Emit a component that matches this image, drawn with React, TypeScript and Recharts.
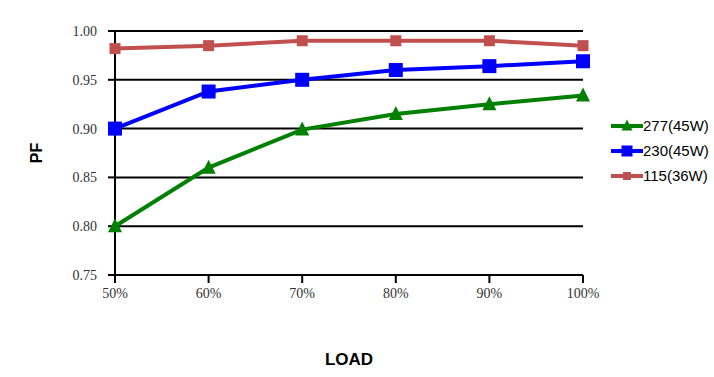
import { CartesianGrid, Line, LineChart, XAxis, YAxis } from 'recharts';

const loads = ['50%', '60%', '70%', '80%', '90%', '100%'];
const pf277 = [0.8, 0.86, 0.899, 0.915, 0.925, 0.934];
const pf230 = [0.9, 0.938, 0.95, 0.96, 0.964, 0.969];
const pf115 = [0.982, 0.985, 0.99, 0.99, 0.99, 0.985];
const yTicks = [0.75, 0.8, 0.85, 0.9, 0.95, 1.0];

const series = [
  { key: 'v277', name: '277(45W)', color: '#008000', shape: 'triangle', size: 14 },
  { key: 'v230', name: '230(45W)', color: '#0000ff', shape: 'square', size: 14 },
  { key: 'v115', name: '115(36W)', color: '#c0504d', shape: 'square', size: 11 },
];

const data = loads.map((load, i) => ({ load, v277: pf277[i], v230: pf230[i], v115: pf115[i] }));

function Marker({ cx, cy, shape, size, color }: any) {
  if (cx == null || cy == null) return null;
  const h = size / 2;
  if (shape === 'triangle') {
    return <polygon points={`${cx},${cy - h - 1} ${cx - h},${cy + h - 1} ${cx + h},${cy + h - 1}`} fill={color} />;
  }
  return <rect x={cx - h} y={cy - h} width={size} height={size} fill={color} />;
}

function LegendBox() {
  return (
    <div
      style={{
        position: 'absolute',
        left: 611,
        top: 113,
        fontFamily: 'Liberation Sans, Arial, sans-serif',
        fontSize: 15,
        color: '#000',
      }}
    >
      {series.map((s) => (
        <div key={s.key} style={{ display: 'flex', alignItems: 'center', height: 25 }}>
          <svg width={32} height={14}>
            <line x1={0} y1={7} x2={32} y2={7} stroke={s.color} strokeWidth={4} />
            <Marker cx={16} cy={7} shape={s.shape} size={s.size - 3} color={s.color} />
          </svg>
          <span>{s.name}</span>
        </div>
      ))}
    </div>
  );
}

export default function App() {
  return (
    <div style={{ position: 'absolute', left: 0, top: 0, width: 714, height: 377, background: '#fff' }}>
      <LineChart width={714} height={377} data={data} margin={{ top: 31, right: 131, bottom: 72, left: 55 }}>
        <CartesianGrid vertical={false} stroke="#000" strokeWidth={2} />
        <XAxis
          dataKey="load"
          axisLine={{ stroke: '#000', strokeWidth: 2 }}
          tickLine={{ stroke: '#000', strokeWidth: 2 }}
          tickSize={8}
          tickMargin={5}
          tick={{ fill: '#333', fontSize: 14, fontFamily: 'Liberation Serif, serif' }}
          label={{
            value: 'LOAD',
            position: 'insideBottom',
            offset: -60,
            style: { fontSize: 17, fontWeight: 'bold', fill: '#000', fontFamily: 'Liberation Sans, Arial, sans-serif' },
          }}
        />
        <YAxis
          domain={[0.75, 1]}
          ticks={yTicks}
          width={60}
          axisLine={{ stroke: '#000', strokeWidth: 2 }}
          tickLine={{ stroke: '#000', strokeWidth: 2 }}
          tickSize={7}
          tickMargin={11}
          tickFormatter={(v: number) => v.toFixed(2)}
          tick={{ fill: '#333', fontSize: 14, fontFamily: 'Liberation Serif, serif' }}
          label={{
            value: 'PF',
            angle: -90,
            position: 'insideLeft',
            offset: -19,
            style: { fontSize: 16, fontWeight: 'bold', fill: '#000', fontFamily: 'Liberation Sans, Arial, sans-serif', textAnchor: 'middle' },
          }}
        />
        {series.map((s) => (
          <Line
            key={s.key}
            dataKey={s.key}
            name={s.name}
            stroke={s.color}
            strokeWidth={4}
            isAnimationActive={false}
            dot={(p: any) => <Marker key={p.index} cx={p.cx} cy={p.cy} shape={s.shape} size={s.size} color={s.color} />}
            activeDot={false}
          />
        ))}
      </LineChart>
      <LegendBox />
    </div>
  );
}
